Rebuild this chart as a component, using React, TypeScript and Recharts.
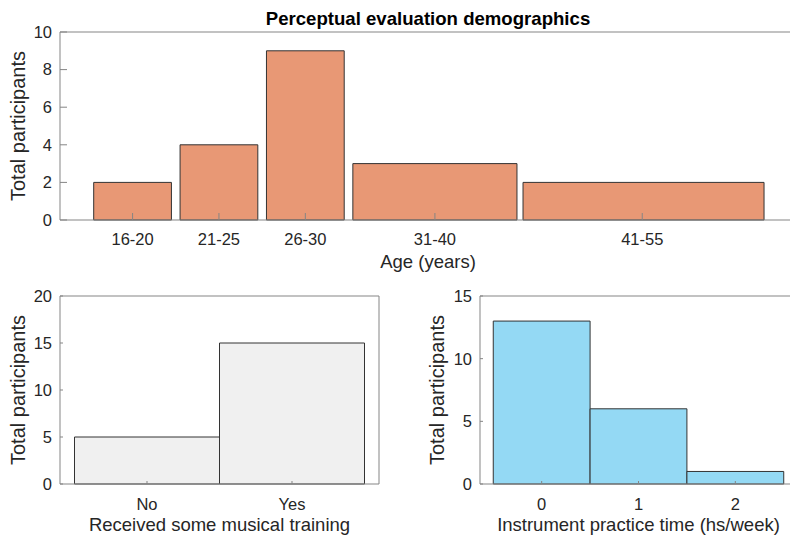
import React from 'react';
import { ComposedChart, XAxis, YAxis, ReferenceArea, Scatter } from 'recharts';

// ---------- data ----------
const titleText = 'Perceptual evaluation demographics';

const ageLabels = ['16-20', '21-25', '26-30', '31-40', '41-55'];
const ageBinStart = [15.75, 20.75, 25.75, 30.75, 40.6];
const ageBinEnd = [20.25, 25.25, 30.25, 40.25, 54.55];
const ageCounts = [2, 4, 9, 3, 2];
const ageTickValues = [18, 23, 28, 35.5, 47.5];
const ageYTicks = [0, 2, 4, 6, 8, 10];

const trainingLabels = ['No', 'Yes'];
const trainingCounts = [5, 15];
const trainingYTicks = [0, 5, 10, 15, 20];

const practiceBins = [0, 1, 2];
const practiceCounts = [13, 6, 1];
const practiceYTicks = [0, 5, 10, 15];

// ---------- styles ----------
const FONT = '"Liberation Sans", Arial, Helvetica, sans-serif';
const AX = '#858585';
const EDGE = '#333333';
const TXT = '#262626';
const ORANGE = '#e89875';
const GRAYFILL = '#f0f0f0';
const BLUE = '#94d9f4';

const tickStyle = { fill: TXT, fontSize: 16.5, fontFamily: FONT };
const xLabelStyle = { fill: TXT, fontSize: 18.5, fontFamily: FONT, textAnchor: 'middle' as const };
const yLabelStyle = { fill: TXT, fontSize: 20, fontFamily: FONT, textAnchor: 'middle' as const };

const ageData = ageLabels.map((label, i) => ({
  label,
  start: ageBinStart[i],
  end: ageBinEnd[i],
  x: (ageBinStart[i] + ageBinEnd[i]) / 2,
  count: ageCounts[i],
}));

const trainingData = trainingLabels.map((label, i) => ({
  label,
  x: i + 1,
  count: trainingCounts[i],
}));

const practiceData = practiceBins.map((b, i) => ({
  label: String(b),
  x: b,
  count: practiceCounts[i],
}));

const Invisible = () => <g />;

const CHART_H = 535;
const PLOT_H = 188;

type PanelProps = {
  data: { label: string; x: number; count: number; start?: number; end?: number }[];
  halfWidth: number;
  fill: string;
  margin: { top: number; right: number; bottom: number; left: number };
  xDomain: [number, number];
  xTicks: number[];
  xFormatter?: (v: number) => string;
  yDomain: [number, number];
  yTicks: number[];
  tickLen: number;
  xTickMargin: number;
  yTickMargin: number;
  xLabel: string;
  xLabelOffset: number;
  yLabelOffset: number;
  title?: string;
};

function Panel(p: PanelProps) {
  const xAxisHeight = CHART_H - p.margin.top - 1 - PLOT_H - p.margin.bottom;
  return (
    <ComposedChart width={800} height={CHART_H} data={p.data} margin={p.margin}>
      {p.data.map((d) => (
        <ReferenceArea
          key={d.label}
          xAxisId="b"
          yAxisId="l"
          x1={d.start ?? d.x - p.halfWidth}
          x2={d.end ?? d.x + p.halfWidth}
          y1={0}
          y2={d.count}
          fill={p.fill}
          fillOpacity={1}
          stroke={EDGE}
          strokeWidth={1}
          ifOverflow="visible"
        />
      ))}
      <Scatter
        xAxisId="b"
        yAxisId="l"
        dataKey="count"
        shape={Invisible}
        isAnimationActive={false}
        legendType="none"
      />
      <Scatter
        xAxisId="t"
        yAxisId="r"
        dataKey="count"
        shape={Invisible}
        isAnimationActive={false}
        legendType="none"
      />
      <XAxis
        xAxisId="b"
        dataKey="x"
        type="number"
        domain={p.xDomain}
        allowDataOverflow
        ticks={p.xTicks}
        interval={0}
        tickFormatter={p.xFormatter}
        height={xAxisHeight}
        tickSize={-p.tickLen}
        tickMargin={p.xTickMargin}
        axisLine={{ stroke: AX }}
        tickLine={{ stroke: AX }}
        tick={tickStyle}
        label={{ value: p.xLabel, position: 'insideTop', offset: p.xLabelOffset, style: xLabelStyle }}
      />
      <XAxis
        xAxisId="t"
        dataKey="x"
        orientation="top"
        type="number"
        domain={p.xDomain}
        allowDataOverflow
        ticks={p.xTicks}
        interval={0}
        height={1}
        tickSize={-p.tickLen}
        tick={false}
        axisLine={{ stroke: AX }}
        tickLine={{ stroke: AX }}
        label={
          p.title
            ? {
                value: p.title,
                position: 'top',
                offset: 6,
                style: { fill: '#000', fontSize: 18.6, fontWeight: 'bold', fontFamily: FONT, textAnchor: 'middle' },
              }
            : undefined
        }
      />
      <YAxis
        yAxisId="l"
        type="number"
        domain={p.yDomain}
        allowDataOverflow
        ticks={p.yTicks}
        interval={0}
        width={60}
        tickSize={-p.tickLen}
        tickMargin={p.yTickMargin}
        axisLine={{ stroke: AX }}
        tickLine={{ stroke: AX }}
        tick={tickStyle}
        label={{ value: 'Total participants', angle: -90, position: 'insideLeft', offset: p.yLabelOffset, style: yLabelStyle }}
      />
      <YAxis
        yAxisId="r"
        orientation="right"
        type="number"
        domain={p.yDomain}
        allowDataOverflow
        ticks={p.yTicks}
        interval={0}
        width={1}
        tickSize={-p.tickLen}
        tick={false}
        axisLine={{ stroke: AX }}
        tickLine={{ stroke: AX }}
      />
    </ComposedChart>
  );
}

export default function App() {
  return (
    <div
      style={{
        position: 'absolute',
        left: 0,
        top: 0,
        width: 790,
        height: 535,
        overflow: 'hidden',
        background: '#fff',
        fontFamily: FONT,
      }}
    >
      <div style={{ position: 'absolute', left: 0, top: 0 }}>
        <Panel
          data={ageData}
          halfWidth={0}
          fill={ORANGE}
          margin={{ top: 31, right: 3, bottom: 0, left: 0 }}
          xDomain={[13.8, 56.4]}
          xTicks={ageTickValues}
          xFormatter={(v: number) => ageLabels[ageTickValues.indexOf(v)] ?? ''}
          yDomain={[0, 10]}
          yTicks={ageYTicks}
          tickLen={7}
          xTickMargin={20}
          yTickMargin={15}
          xLabel="Age (years)"
          xLabelOffset={35}
          yLabelOffset={18}
          title={titleText}
        />
      </div>
      <div style={{ position: 'absolute', left: 0, top: 264 }}>
        <Panel
          data={trainingData}
          halfWidth={0.5}
          fill={GRAYFILL}
          margin={{ top: 31, right: 420, bottom: 0, left: 0 }}
          xDomain={[0.4, 2.6]}
          xTicks={[1, 2]}
          xFormatter={(v: number) => trainingLabels[v - 1] ?? ''}
          yDomain={[0, 20]}
          yTicks={trainingYTicks}
          tickLen={3}
          xTickMargin={17}
          yTickMargin={11}
          xLabel="Received some musical training"
          xLabelOffset={34}
          yLabelOffset={18}
        />
      </div>
      <div style={{ position: 'absolute', left: 0, top: 264 }}>
        <Panel
          data={practiceData}
          halfWidth={0.5}
          fill={BLUE}
          margin={{ top: 31, right: 2, bottom: 0, left: 420 }}
          xDomain={[-0.637, 2.637]}
          xTicks={practiceBins}
          yDomain={[0, 15]}
          yTicks={practiceYTicks}
          tickLen={3}
          xTickMargin={17}
          yTickMargin={11}
          xLabel="Instrument practice time (hs/week)"
          xLabelOffset={34}
          yLabelOffset={17}
        />
      </div>
    </div>
  );
}
